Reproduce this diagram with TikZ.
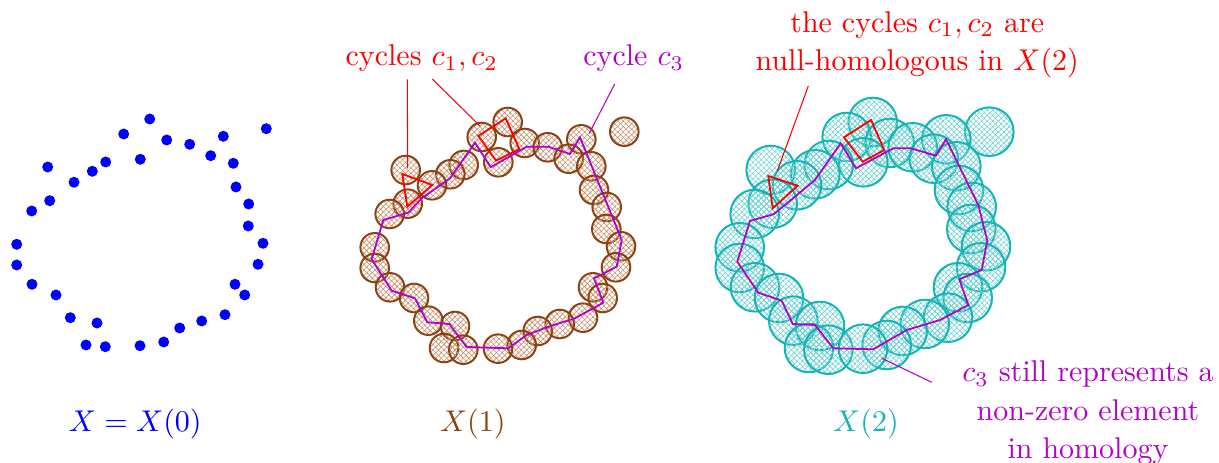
\documentclass[tikz,border=0pt]{standalone}
\usetikzlibrary{patterns.meta}
\definecolor{ptblue}{RGB}{0,0,255}
\definecolor{ptbrown}{RGB}{140,65,20}
\definecolor{ptbrownl}{RGB}{200,145,105}
\definecolor{ptteal}{RGB}{20,180,180}
\definecolor{ptteall}{RGB}{110,210,210}
\definecolor{ptpurple}{RGB}{180,0,200}
\definecolor{ptred}{RGB}{255,0,0}
\begin{document}
\begin{tikzpicture}[x=0.33333pt,y=-0.33333pt,
  dotpt/.style={fill=ptblue},
  ballone/.style={draw=ptbrown,line width=0.65pt,pattern={Hatch[angle=45,distance=1.3pt,line width=0.2pt]},pattern color=ptbrownl},
  balltwo/.style={draw=ptteal,line width=0.65pt,pattern={Hatch[angle=45,distance=1.3pt,line width=0.2pt]},pattern color=ptteall},
  cycthree/.style={draw=ptpurple,line width=0.6pt,line join=miter},
  cycred/.style={draw=ptred,line width=0.6pt},
  leadred/.style={draw=ptred,line width=0.35pt},
  leadpurple/.style={draw=ptpurple,line width=0.35pt},
  lab/.style={inner sep=0pt,anchor=base}]
\useasboundingbox (0,0) rectangle (1219,463);
\def\pts{149.7/119, 266.3/128.7, 123.7/134, 166.7/140, 223.3/136.3, 189.7/144.3,
  210.7/155.7, 233.3/163.3, 140.3/159.3, 105.7/162, 92.3/171.3, 47.7/167,
  74/182.3, 236/187, 49.7/200.7, 31.7/211, 248.7/204, 248.3/226, 263/243.3,
  16.7/244.3, 16.7/265, 258/264.3, 32/284.3, 235/284.3, 56/295, 244.7/295,
  70.3/317.7, 97/323, 225/314.7, 201.7/321, 179.7/328, 163.7/342, 86/345,
  105.3/346.7, 140/345.7}
% X(0)
\foreach \x/\y in \pts { \path[dotpt] (\x,\y) circle[radius=5.5]; }
% X(1)
\foreach \x/\y in \pts { \path[ballone] (\x+358,\y+3) circle[radius=14.3]; }
\draw[cycthree] (580,137.3) -- (621.7,240) -- (616.7,266.7) -- (594,278.3) -- (603.3,302.7)
  -- (575,318.3) -- (546.7,327.3) -- (526.7,335) -- (508.3,348.3) -- (466.7,347)
  -- (449.3,324) -- (427.3,322.3) -- (415,298.3) -- (391.7,290.7) -- (371.7,259.3)
  -- (383.3,220) -- (408.3,212.7) -- (421.7,198.3) -- (450,178.3) -- (475,142.7)
  -- (490.7,167.3) -- (526.7,146.7) -- (548.3,146.7) -- (570,154) -- cycle;
\draw[cycred] (402.3,174) -- (432.3,185) -- (407.3,206.7) -- cycle;
\draw[cycred] (478.3,136) -- (505.7,118.3) -- (519.3,149) -- (496,160.7) -- cycle;
% X(2)
\foreach \x/\y in \pts { \path[balltwo] (\x+723,\y+3) circle[radius=24.3]; }
\draw[cycthree] (946,139.3) -- (978.3,205) -- (987.3,240.7) -- (981.7,270) -- (959.3,279.3)
  -- (968.3,305) -- (940,320) -- (906.7,330) -- (873.3,349.3) -- (833.3,348.3)
  -- (815,325) -- (792.7,324) -- (781.7,300.7) -- (758.3,292.7) -- (737.3,261.7)
  -- (750,221) -- (774,214) -- (815,180) -- (840.7,143.3) -- (856,168.3)
  -- (893.3,148.3) -- (910.7,148.3) -- (936,155.7) -- cycle;
\draw[cycred] (768.3,176) -- (797.7,185.7) -- (772.7,208.3) -- cycle;
\draw[cycred] (844,137.3) -- (871,120) -- (884.3,150) -- (862.7,161.7) -- cycle;
% labels
\node[lab,text=ptred] (lcyc) at (421.7,65.7) {cycles $c_1,c_2$};
\node[lab,text=ptpurple] (lcthree) at (633.7,65.7) {cycle $c_3$};
\node[lab,text=ptred] (lnull) at (917.3,32.3)
  {\def\arraystretch{1.075}\begin{tabular}[t]{@{}c@{}}the cycles $c_1,c_2$ are\\null-homologous in $X(2)$\end{tabular}};
\node[lab,text=ptpurple] (lstill) at (1088,381.7)
  {\def\arraystretch{1.065}\begin{tabular}[t]{@{}c@{}}$c_3$ still represents a\\non-zero element\\in homology\end{tabular}};
\node[lab,text=ptblue] (lx0) at (135.3,431.5) {$X=X(0)$};
\node[lab,text=ptbrown] (lx1) at (472.8,431.5) {$X(1)$};
\node[lab,text=ptteal] (lx2) at (866,431.5) {$X(2)$};
% leader lines
\coordinate (a1) at (407.3,79.3);  \coordinate (b1) at (407.7,168.3);
\coordinate (a2) at (432.3,79);    \coordinate (b2) at (480,126);
\coordinate (a3) at (614.7,84);    \coordinate (b3) at (589.3,133.3);
\coordinate (a4) at (808.3,86);    \coordinate (b4) at (777.3,171);
\coordinate (a5) at (931.7,382.3); \coordinate (b5) at (881.7,358.3);
\draw[leadred] (a1) -- (b1);
\draw[leadred] (a2) -- (b2);
\draw[leadpurple] (a3) -- (b3);
\draw[leadred] (a4) -- (b4);
\draw[leadpurple] (a5) -- (b5);
\end{tikzpicture}
\end{document}
